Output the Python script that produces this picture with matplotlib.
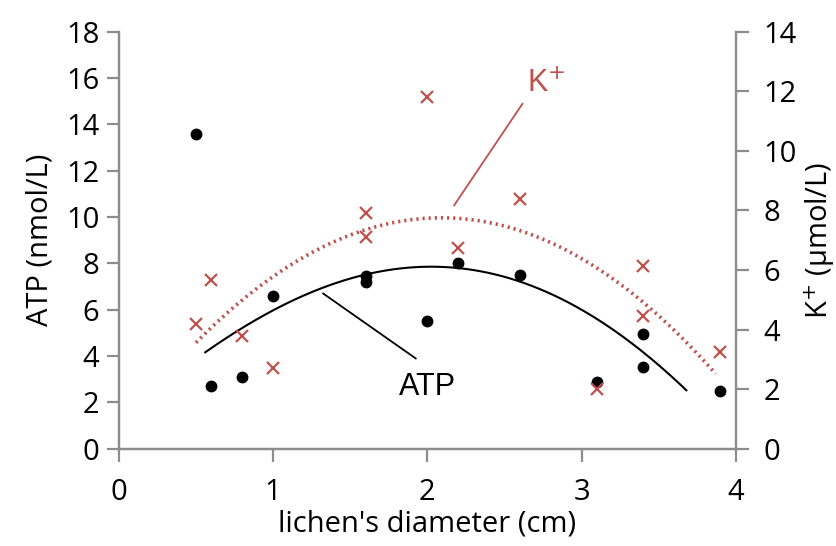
import numpy as np
import matplotlib
matplotlib.use('Agg')
import matplotlib.pyplot as plt

# lichen diameter (cm)
atp_x = [0.5, 0.6, 0.8, 1.0, 1.6, 1.6, 2.0, 2.2, 2.6, 3.1, 3.4, 3.4, 3.9]
atp_y = [13.6, 2.7, 3.1, 6.6, 7.45, 7.2, 5.5, 8.0, 7.5, 2.9, 3.55, 4.95, 2.5]

k_x = [0.5, 0.6, 0.8, 1.0, 1.6, 1.6, 2.0, 2.2, 2.6, 3.1, 3.4, 3.4, 3.9]
k_y = [4.2, 5.65, 3.8, 2.7, 7.9, 7.1, 11.8, 6.75, 8.4, 2.0, 6.15, 4.45, 3.25]

# ATP trendline
atp_trend_x = [0.56, 0.79, 1.03, 1.31, 1.57, 1.90, 2.18, 2.34, 2.62, 2.95, 3.16, 3.38, 3.68]
atp_trend_y = [4.19, 5.12, 6.06, 7.0, 7.5, 7.75, 7.78, 7.68, 7.2, 6.27, 5.27, 4.26, 2.54]

gray = '#8c8c8c'
red = '#c0504d'
plt.rcParams['font.family'] = ['Open Sans', 'DejaVu Sans']

fig = plt.figure(figsize=(8.37, 5.46), dpi=100)
ax = fig.add_axes([0.142, 0.178, 0.737, 0.764])
ax2 = ax.twinx()

# smooth the read trendline
c1 = np.polyfit(atp_trend_x, atp_trend_y, 4)
xs1 = np.linspace(atp_trend_x[0], atp_trend_x[-1], 200)
ax.plot(xs1, np.polyval(c1, xs1), color='black', lw=1.5)

# K+ polynomial trendline (order 2)
c2 = np.polyfit(k_x, k_y, 2)
xs2 = np.linspace(0.5, 3.87, 200)
ax2.plot(xs2, np.polyval(c2, xs2), color=red, lw=2.6, ls=(0, (0.6, 1.1)))

ax.plot(atp_x, atp_y, 'o', color='black', ms=7.5)
ax2.plot(k_x, k_y, 'x', color=red, ms=8, mew=1.6)

ax.set_xlim(0, 4)
ax.set_ylim(0, 18)
ax2.set_ylim(0, 14)
ax.set_xticks([0, 1, 2, 3, 4])
ax.set_yticks(range(0, 19, 2))
ax2.set_yticks(range(0, 15, 2))

for a in (ax, ax2):
    a.spines['top'].set_visible(False)
    for s in ('left', 'right', 'bottom'):
        a.spines[s].set_color(gray)
        a.spines[s].set_linewidth(1.6)
    a.tick_params(direction='out', length=9, width=1.6, color=gray,
                  labelsize=21)
ax.tick_params(axis='x', pad=12)
ax.tick_params(axis='y', pad=5)
ax2.tick_params(axis='y', pad=11)

ax.set_xlabel("lichen's diameter (cm)", fontsize=21, labelpad=2)
ax.set_ylabel('ATP (nmol/L)', fontsize=21, labelpad=8)
ax2.set_ylabel('K$^{+}$ (µmol/L)', fontsize=21, rotation=90, labelpad=4)

# callout labels
ax.plot([1.325, 1.925], [6.7, 3.9], color='black', lw=1.3)
ax.text(2.0, 2.65, 'ATP', fontsize=22, family='Liberation Sans',
        ha='center', va='center')
ax2.plot([2.174, 2.617], [8.17, 11.58], color=red, lw=1.3)
ax2.text(2.77, 12.25, 'K$^{+}$', fontsize=22, family='Liberation Sans',
         color=red, ha='center', va='center')

fig.savefig('out.png', dpi=100)
